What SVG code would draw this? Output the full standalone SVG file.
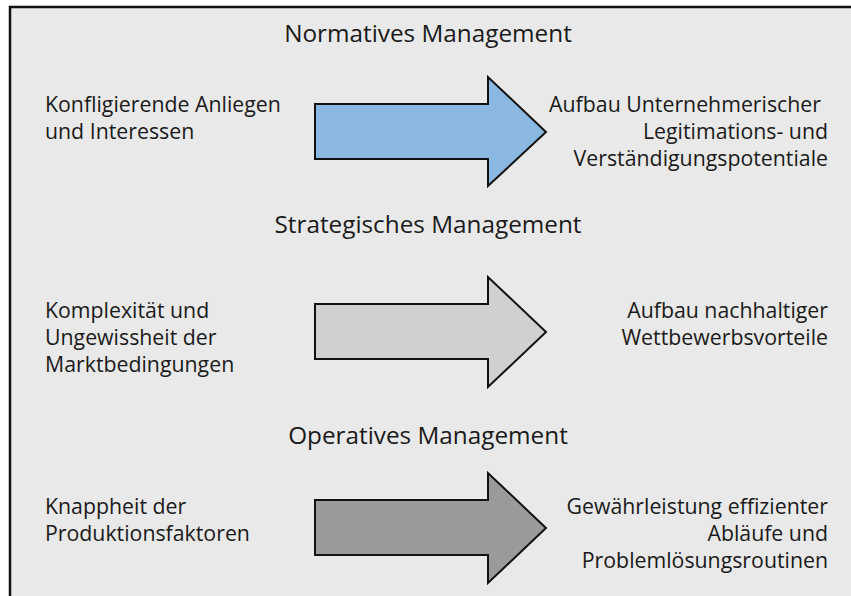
<svg xmlns="http://www.w3.org/2000/svg" width="851" height="596" viewBox="0 0 851 596">
  <style>
    text { font-family: "Open Sans", "Liberation Sans", sans-serif; fill: #1a1a1a; }
    .title { font-size: 24.3px; text-anchor: middle; }
    .body { font-size: 21.3px; }
    .right { text-anchor: end; }
    .arrow { stroke: #111; stroke-width: 2; stroke-linejoin: miter; }
  </style>
  <rect width="851" height="596" fill="#ffffff"/>
  <!-- frame, open at right and bottom edges -->
  <rect x="10" y="7" width="860" height="610" fill="#e9e9e9" stroke="#111" stroke-width="2.5"/>

  <g id="normativ">
    <text class="title" x="428" y="42">Normatives Management</text>
    <g id="normativ-ursache">
      <text class="body" x="45" y="112">Konfligierende Anliegen</text>
      <text class="body" x="45" y="139">und Interessen</text>
    </g>
    <g id="normativ-ziel">
      <text class="body right" x="821" y="112">Aufbau Unternehmerischer</text>
      <text class="body right" x="828" y="139">Legitimations- und</text>
      <text class="body right" x="828" y="166">Verständigungspotentiale</text>
    </g>
  </g>

  <g id="strategisch">
    <text class="title" x="428" y="233">Strategisches Management</text>
    <g id="strategisch-ursache">
      <text class="body" x="45" y="318">Komplexität und</text>
      <text class="body" x="45" y="345">Ungewissheit der</text>
      <text class="body" x="45" y="372">Marktbedingungen</text>
    </g>
    <g id="strategisch-ziel">
      <text class="body right" x="828" y="318">Aufbau nachhaltiger</text>
      <text class="body right" x="828" y="345">Wettbewerbsvorteile</text>
    </g>
  </g>

  <g id="operativ">
    <text class="title" x="428" y="444">Operatives Management</text>
    <g id="operativ-ursache">
      <text class="body" x="45" y="514">Knappheit der</text>
      <text class="body" x="45" y="541">Produktionsfaktoren</text>
    </g>
    <g id="operativ-ziel">
      <text class="body right" x="828" y="514">Gewährleistung effizienter</text>
      <text class="body right" x="828" y="541">Abläufe und</text>
      <text class="body right" x="828" y="568">Problemlösungsroutinen</text>
    </g>
  </g>

  <g id="connectors">
    <path class="arrow" fill="#8ab8e0" d="M315,104 H488 V77 L546,132 L488,186 V159 H315 Z"/>
    <path class="arrow" fill="#d0d0d0" d="M315,304 H488 V277 L546,332 L488,387 V359 H315 Z"/>
    <path class="arrow" fill="#9a9a9a" d="M315,500 H488 V473 L546,528 L488,583 V555 H315 Z"/>
  </g>
</svg>
